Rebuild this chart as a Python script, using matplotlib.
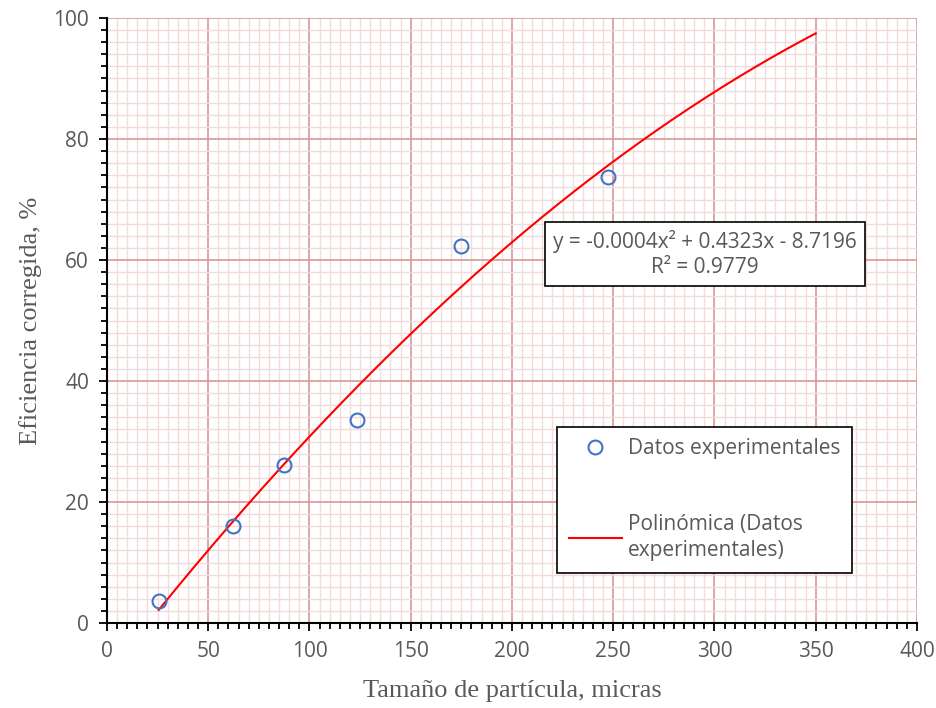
import numpy as np
import matplotlib
matplotlib.use("Agg")
import matplotlib.pyplot as plt
from matplotlib.ticker import MultipleLocator

# experimental data
size_um = [25.5, 62, 87.5, 123.5, 175, 247.5]
efficiency = [3.7, 16.0, 26.2, 33.5, 62.3, 73.7]
fit_x_end = 350

GRAY = "#595959"
MAJOR = "#D99694"
MINOR = "#F2DCDB"

coef = np.polyfit(size_um, efficiency, 2)
xf = np.linspace(min(size_um), fit_x_end, 200)
yf = np.polyval(coef, xf)

fig = plt.figure(figsize=(9.36, 7.08), dpi=100)
ax = fig.add_axes([0.1143, 0.120, 0.8654, 0.8546])

ax.set_xlim(0, 400)
ax.set_ylim(0, 100)
ax.xaxis.set_major_locator(MultipleLocator(50))
ax.xaxis.set_minor_locator(MultipleLocator(5))
ax.yaxis.set_major_locator(MultipleLocator(20))
ax.yaxis.set_minor_locator(MultipleLocator(2))
ax.grid(which="minor", color=MINOR, lw=1.0, zorder=0)
ax.grid(which="major", color=MAJOR, lw=1.2, zorder=0)
ax.set_axisbelow(True)

for s in ("top", "right"):
    ax.spines[s].set_visible(False)
for s in ("left", "bottom"):
    ax.spines[s].set_color("black")
    ax.spines[s].set_linewidth(1.5)
ax.tick_params(which="major", direction="out", length=6, width=1.3, color="black",
               labelsize=15, labelcolor=GRAY, pad=7)
ax.tick_params(which="minor", direction="out", length=4, width=1.3, color="black")
for lab in ax.get_xticklabels() + ax.get_yticklabels():
    lab.set_family("Open Sans")

ax.plot(size_um, efficiency, "o", ms=10, mfc="none", mec="#4472C4", mew=1.5,
        label="Datos experimentales", zorder=3)
ax.plot(xf, yf, color="red", lw=1.5, label="Polinómica (Datos\nexperimentales)", zorder=2)

ax.set_xlabel("Tamaño de partícula, micras", family="Liberation Serif",
              fontsize=19, color=GRAY, labelpad=13)
ax.set_ylabel("Eficiencia corregida, %", family="Liberation Serif",
              fontsize=19, color=GRAY, labelpad=8)

ax.text(0.738, 0.610, "y = -0.0004x² + 0.4323x - 8.7196\nR² = 0.9779",
        transform=ax.transAxes, ha="center", va="center", fontsize=15,
        family="Open Sans", color=GRAY, linespacing=1.2,
        bbox=dict(boxstyle="square,pad=0.4", fc="white", ec="black", lw=1.2))

leg = ax.legend(loc="upper left", bbox_to_anchor=(0.556, 0.324), frameon=True,
                fancybox=False, edgecolor="black", framealpha=1, borderpad=0.55,
                borderaxespad=0, labelspacing=2.6, handlelength=2.55,
                handletextpad=0.3, prop={"family": "Open Sans", "size": 15})
leg.get_frame().set_linewidth(1.2)
for t in leg.get_texts():
    t.set_color(GRAY)
    t.set_linespacing(1.35)

fig.savefig("out.png", dpi=100)
